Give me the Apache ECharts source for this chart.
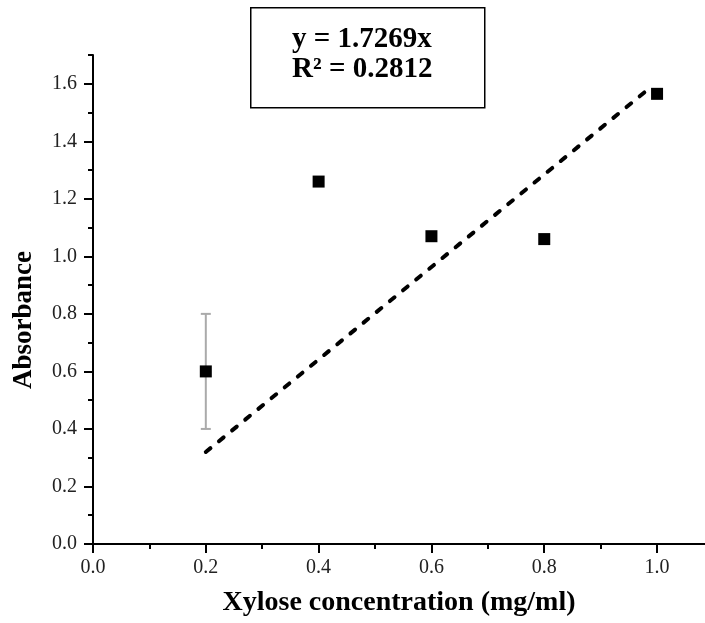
<!DOCTYPE html>
<html>
<head>
<meta charset="utf-8">
<script src="https://cdn.jsdelivr.net/npm/echarts@6/dist/echarts.min.js"></script>
<style>html,body{margin:0;padding:0;background:#fff}#c{width:705px;height:623px}</style>
</head>
<body>
<div id="c"></div>
<script>
var concentration = [0.2, 0.4, 0.6, 0.8, 1.0];
var absorbance = [0.60, 1.26, 1.07, 1.06, 1.565];
var errLow = [0.40, null, null, null, null];
var errHigh = [0.80, null, null, null, null];
var fitX = [0.2, 0.99];
var fitY = [0.32, 1.59];
var xTicks = [0, 0.2, 0.4, 0.6, 0.8, 1.0];
var xMinor = [0.1, 0.3, 0.5, 0.7, 0.9];
var yTicks = [0, 0.2, 0.4, 0.6, 0.8, 1.0, 1.2, 1.4, 1.6];
var yMinor = [0.1, 0.3, 0.5, 0.7, 0.9, 1.1, 1.3, 1.5, 1.7];
var eqLines = ['y = 1.7269x', 'R\u00b2 = 0.2812'];
var xTitle = 'Xylose concentration (mg/ml)';
var yTitle = 'Absorbance';

var FONT = '"Liberation Serif", "Times New Roman", serif';
var chart = echarts.init(document.getElementById('c'), null, {renderer: 'canvas'});

var points = concentration.map(function (x, i) { return [x, absorbance[i]]; });
var errData = [];
concentration.forEach(function (x, i) {
  if (errLow[i] != null) errData.push([x, errLow[i], errHigh[i]]);
});

function xAxisDef(extra) {
  return Object.assign({
    type: 'value', min: 0, max: 1.085, position: 'bottom',
    axisLine: {show: true, onZero: false, lineStyle: {color: '#000', width: 2}},
    splitLine: {show: false}
  }, extra);
}
function yAxisDef(extra) {
  return Object.assign({
    type: 'value', min: 0, max: 1.7, position: 'left',
    axisLine: {show: true, onZero: false, lineStyle: {color: '#000', width: 2}},
    splitLine: {show: false}
  }, extra);
}

chart.setOption({
  animation: false,
  grid: {left: 93, right: 0, top: 55, bottom: 79, containLabel: false},
  xAxis: [
    xAxisDef({
      name: xTitle, nameLocation: 'middle', nameGap: 45,
      nameTextStyle: {fontFamily: FONT, fontWeight: 'bold', fontSize: 28, color: '#000'},
      axisTick: {show: true, length: 9, customValues: xTicks, lineStyle: {color: '#000', width: 2}},
      axisLabel: {show: true, customValues: xTicks, margin: 14, fontFamily: FONT, fontSize: 20, color: '#222',
        formatter: function (v) { return v.toFixed(1); }}
    }),
    xAxisDef({
      axisLine: {show: false, onZero: false},
      axisTick: {show: true, length: 5, customValues: xMinor, lineStyle: {color: '#000', width: 2}},
      axisLabel: {show: false}
    })
  ],
  yAxis: [
    yAxisDef({
      axisTick: {show: true, length: 9, customValues: yTicks, lineStyle: {color: '#000', width: 2}},
      axisLabel: {show: true, customValues: yTicks, margin: 16, fontFamily: FONT, fontSize: 20, color: '#222',
        formatter: function (v) { return v.toFixed(1); }}
    }),
    yAxisDef({
      axisLine: {show: false, onZero: false},
      axisTick: {show: true, length: 5, customValues: yMinor, lineStyle: {color: '#000', width: 2}},
      axisLabel: {show: false}
    })
  ],
  series: [
    {
      type: 'custom',
      xAxisIndex: 0, yAxisIndex: 0,
      data: errData,
      z: 1,
      renderItem: function (params, api) {
        var x = api.value(0);
        var lo = api.coord([x, api.value(1)]);
        var hi = api.coord([x, api.value(2)]);
        var cap = 5;
        var st = {stroke: '#aaaaaa', lineWidth: 2};
        return {
          type: 'group',
          children: [
            {type: 'line', shape: {x1: lo[0], y1: lo[1], x2: hi[0], y2: hi[1]}, style: st},
            {type: 'line', shape: {x1: lo[0] - cap, y1: lo[1], x2: lo[0] + cap, y2: lo[1]}, style: st},
            {type: 'line', shape: {x1: hi[0] - cap, y1: hi[1], x2: hi[0] + cap, y2: hi[1]}, style: st}
          ]
        };
      }
    },
    {
      type: 'line',
      xAxisIndex: 0, yAxisIndex: 0,
      data: fitX.map(function (x, i) { return [x, fitY[i]]; }),
      showSymbol: false, symbol: 'none',
      lineStyle: {color: '#000', width: 4, type: [6, 11], cap: 'round'},
      z: 2
    },
    {
      type: 'scatter',
      xAxisIndex: 0, yAxisIndex: 0,
      data: points,
      symbol: 'rect', symbolSize: 12,
      itemStyle: {color: '#000', opacity: 1},
      z: 3
    }
  ],
  graphic: [
    {
      type: 'text', x: 24, y: 320, rotation: Math.PI / 2,
      style: {text: yTitle, font: 'bold 27px ' + FONT, fill: '#000', align: 'center', verticalAlign: 'middle'},
      z: 11
    },
    {
      type: 'rect', left: 250, top: 7,
      shape: {width: 234, height: 100},
      style: {fill: '#fff', stroke: '#000', lineWidth: 1.5},
      z: 10
    },
    {
      type: 'text', left: 292, top: 25,
      style: {text: eqLines[0], font: 'bold 29px ' + FONT, fill: '#000'},
      z: 11
    },
    {
      type: 'text', left: 292, top: 55,
      style: {text: eqLines[1], font: 'bold 29px ' + FONT, fill: '#000'},
      z: 11
    }
  ]
});
</script>
</body>
</html>
